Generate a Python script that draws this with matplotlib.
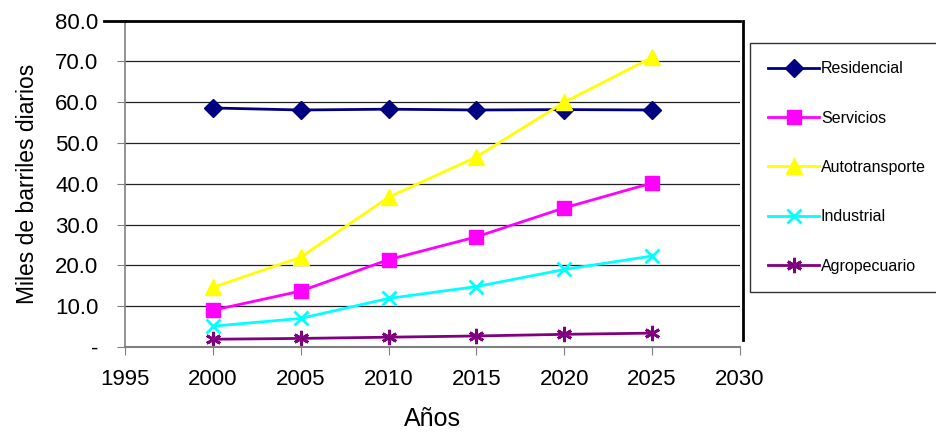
import matplotlib.pyplot as plt

plt.rcParams['font.family'] = ['Liberation Sans', 'DejaVu Sans']

years = [2000, 2005, 2010, 2015, 2020, 2025]
residencial = [58.6, 58.1, 58.3, 58.1, 58.2, 58.1]
servicios = [9.0, 13.7, 21.4, 27.0, 34.1, 40.2]
autotransporte = [14.6, 22.0, 36.7, 46.6, 60.0, 71.0]
industrial = [5.1, 7.0, 11.9, 14.8, 19.0, 22.3]
agropecuario = [1.9, 2.1, 2.4, 2.7, 3.1, 3.4]

xticks = [1995, 2000, 2005, 2010, 2015, 2020, 2025, 2030]
yticks = [0, 10, 20, 30, 40, 50, 60, 70, 80]
ylabels = ['-', '10.0', '20.0', '30.0', '40.0', '50.0', '60.0', '70.0', '80.0']

fig = plt.figure(figsize=(9.36, 4.38), dpi=100)
ax = fig.add_axes([0.1335, 0.2078, 0.657, 0.745])

ax.plot(years, residencial, color='#000080', lw=2, marker='D', ms=9, label='Residencial')
ax.plot(years, servicios, color='#FF00FF', lw=2, marker='s', ms=10, label='Servicios')
ax.plot(years, autotransporte, color='#FFFF00', lw=2, marker='^', ms=11, label='Autotransporte')
ax.plot(years, industrial, color='#00FFFF', lw=2, marker='x', ms=10, mew=2, label='Industrial')
ax.plot(years, agropecuario, color='#800080', lw=2, marker=(6, 2, 0), ms=11, mew=2, label='Agropecuario')

ax.set_xlim(1995, 2030)
ax.set_ylim(0, 80)
ax.set_xticks(xticks)
ax.set_yticks(yticks)
ax.set_yticklabels(ylabels)
ax.tick_params(axis='both', labelsize=16, direction='out', length=6, color='#808080')
ax.tick_params(axis='x', pad=10)
ax.tick_params(axis='y', pad=13)

for v in yticks[1:-1]:
    ax.axhline(v, color='#202020', lw=0.9, zorder=0)

ax.spines['left'].set_color('#808080')
ax.spines['bottom'].set_color('#808080')
ax.spines['left'].set_linewidth(1.2)
ax.spines['bottom'].set_linewidth(1.5)
ax.spines['top'].set_color('black')
ax.spines['top'].set_linewidth(2)
ax.spines['right'].set_visible(False)
# right border of the plot area stops just above the x axis
ax.plot([2030.15, 2030.15], [1.6, 80], color='black', lw=2, clip_on=False)
# top border continues left over the 80 tick
ax.plot([1993.8, 1995], [80, 80], color='black', lw=2, clip_on=False)

ax.set_xlabel('Años', fontsize=18, labelpad=12)
ax.set_ylabel('Miles de barriles diarios', fontsize=16.5, labelpad=12)

leg = fig.legend(loc='upper left', bbox_to_anchor=(0.801, 0.902), fontsize=11.5,
                 frameon=True, fancybox=False, edgecolor='black', handlelength=3.2,
                 labelspacing=2.15, borderpad=1.15, handletextpad=0.1, borderaxespad=0)
leg.get_frame().set_linewidth(1)

fig.savefig('out.png', dpi=100)
